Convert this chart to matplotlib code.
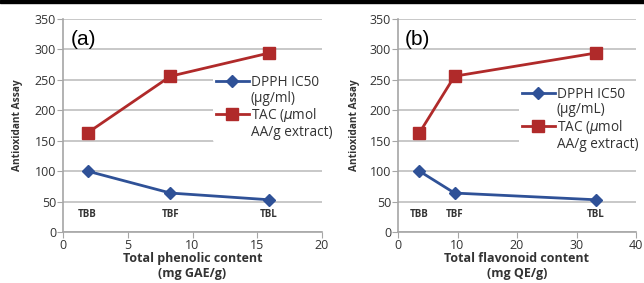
import numpy as np
import matplotlib.pyplot as plt
from matplotlib.patches import Rectangle
from matplotlib.lines import Line2D

plt.rcParams['font.family'] = ['Open Sans', 'DejaVu Sans']

# sample names
samples = ["TBB", "TBF", "TBL"]

# x values: total phenolic (a) and total flavonoid (b)
phenolic = [1.9, 8.3, 15.9]
flavonoid = [3.6, 9.5, 33.2]

# antioxidant assays (same for both panels)
dpph = [100, 64, 53]
tac = [163, 256, 294]

blue = "#2F5197"
red = "#B02A2A"
grid_c = "#BFBFBF"
txt_c = "#333333"

fig = plt.figure(figsize=(6.44, 2.83), dpi=100)

# black strip along the top edge
fig.add_artist(Rectangle((0, 1 - 2.5 / 283), 1, 2.5 / 283, transform=fig.transFigure,
                         color="black", zorder=10))

panels = [
    dict(pos=[63 / 644, 1 - 232 / 283, 259 / 644, 213 / 283], x=phenolic, xmax=20, xstep=5,
         xlabel="Total phenolic content\n(mg GAE/g)", tag="(a)",
         unit="(\u00b5g/ml)", leg=(0.58, 0.585), ylab_x=-0.155),
    dict(pos=[398 / 644, 1 - 232 / 283, 238 / 644, 213 / 283], x=flavonoid, xmax=40, xstep=10,
         xlabel="Total flavonoid content\n(mg QE/g)", tag="(b)",
         unit="(\u00b5g/mL)", leg=(0.51, 0.53), ylab_x=-0.16),
]

for p in panels:
    ax = fig.add_axes(p["pos"])
    l1, = ax.plot(p["x"], dpph, color=blue, lw=2, marker="D", ms=6, zorder=3)
    l2, = ax.plot(p["x"], tac, color=red, lw=2, marker="s", ms=8.5, zorder=3)

    for xi, s in zip(p["x"], samples):
        ax.text(xi, 28, s, ha="center", va="center", fontsize=7, fontweight="bold", color=txt_c)

    ax.set_xlim(0, p["xmax"])
    ax.set_ylim(0, 350)
    ax.set_xticks(np.arange(0, p["xmax"] + 1, p["xstep"]))
    ax.set_yticks(np.arange(0, 351, 50))
    ax.yaxis.grid(True, color=grid_c, lw=1.2)
    ax.set_axisbelow(True)
    for s in ["top", "right"]:
        ax.spines[s].set_visible(False)
    for s in ["left", "bottom"]:
        ax.spines[s].set_color("#A6A6A6")
        ax.spines[s].set_linewidth(1.2)
    ax.tick_params(length=4, color="#A6A6A6", labelsize=9, labelcolor=txt_c, pad=1)

    ax.set_xlabel(p["xlabel"], fontsize=9, fontweight="bold", color=txt_c, labelpad=0, linespacing=1.25)
    ax.set_ylabel("Antioxidant Assay", fontsize=7.3, fontweight="bold", color=txt_c)
    ax.yaxis.set_label_coords(p["ylab_x"], 0.5)

    ax.text(0.03, 0.905, p["tag"], transform=ax.transAxes, fontsize=15, ha="left", va="center",
            color="black", family="Liberation Sans")

    # second line of each legend label gets an empty handle so the marker sits on the first line
    blank = Line2D([], [], linestyle="none")
    leg = ax.legend([l1, blank, l2, blank],
                    ["DPPH IC50", p["unit"], "TAC ($\\mu$mol", "AA/g extract)"],
                    loc="center left", bbox_to_anchor=p["leg"], frameon=True, fontsize=9.8,
                    handlelength=2.4, handletextpad=0.15, labelspacing=0.05, borderpad=0.2,
                    borderaxespad=0)
    leg.get_frame().set_edgecolor("none")
    leg.get_frame().set_facecolor("white")
    leg.get_frame().set_alpha(1)
    for t in leg.get_texts():
        t.set_color(txt_c)

fig.savefig("out.png", dpi=100)
